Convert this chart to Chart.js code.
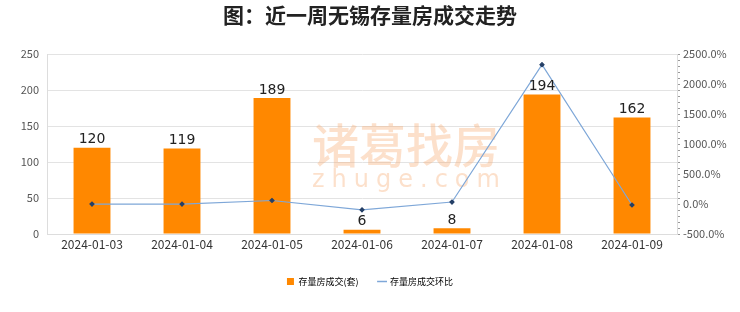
<!DOCTYPE html>
<html><head><meta charset="utf-8">
<script src="https://cdn.jsdelivr.net/npm/chart.js@4"></script>
<style>html,body{margin:0;padding:0;background:#fff}#wrap{width:740px;height:312px}</style>
</head><body><div id="wrap"><canvas id="c" width="740" height="312"></canvas></div>
<script>
const categories = ["2024-01-03","2024-01-04","2024-01-05","2024-01-06","2024-01-07","2024-01-08","2024-01-09"];
const volume = [120,119,189,6,8,194,162];
const changePct = [0,-0.8,58.8,-96.8,33.3,2325.0,-16.5];
const leftTicks = [0,50,100,150,200,250];
const rightTicks = [-500,0,500,1000,1500,2000,2500];
const titleText = "图：近一周无锡存量房成交走势";
const seriesNames = ["存量房成交(套)","存量房成交环比"];

const CJK = '"Noto Sans CJK SC","Noto Sans CJK JP",sans-serif';

const watermark = {
  id:'wm',
  beforeDatasetsDraw(chart){
    const ctx = chart.ctx; ctx.save();
    ctx.fillStyle = 'rgba(246,170,110,0.36)';
    ctx.font = '500 47px ' + CJK;
    ctx.textBaseline = 'middle'; ctx.textAlign = 'left';
    ctx.fillText('诸葛找房', 312, 145);
    ctx.font = '24px "DejaVu Sans",sans-serif';
    if ('letterSpacing' in ctx) ctx.letterSpacing = '7px';
    ctx.fillText('zhuge.com', 312, 181);
    ctx.restore();
  }
};
const dataLabels = {
  id:'dl',
  afterDatasetsDraw(chart){
    const ctx = chart.ctx; const meta = chart.getDatasetMeta(1);
    ctx.save(); ctx.font = '14px "DejaVu Sans",sans-serif'; ctx.fillStyle = '#222';
    ctx.textAlign = 'center'; ctx.textBaseline = 'bottom';
    meta.data.forEach((b,i)=>{ ctx.fillText(String(volume[i]), b.x, b.y - 1); });
    ctx.restore();
  }
};

new Chart(document.getElementById('c'), {
  data:{
    labels: categories,
    datasets:[
      {type:'line', label: seriesNames[1], data: changePct, yAxisID:'y1', borderColor:'#7ea7d8', borderWidth:1.2,
       pointStyle:'rectRot', pointRadius:2, pointBackgroundColor:'#243f66', pointBorderColor:'#243f66', tension:0, order:0},
      {type:'bar', label: seriesNames[0], data: volume, yAxisID:'y', backgroundColor:'#ff8800', barPercentage:0.41, categoryPercentage:1, order:1}
    ]
  },
  options:{
    responsive:false, animation:false, devicePixelRatio:1,
    layout:{padding:{top:0,bottom:16,left:0,right:0}},
    plugins:{
      title:{display:true, text:titleText, color:'#222', font:{family:CJK, size:21, weight:'bold'}, padding:{top:2,bottom:27}},
      legend:{position:'bottom', labels:{usePointStyle:true, font:{family:CJK,size:9}, color:'#333', boxWidth:7, boxHeight:7, padding:20,
        generateLabels(chart){
          return [
            {text:seriesNames[0], fillStyle:'#ff8800', strokeStyle:'#ff8800', pointStyle:'rect', lineWidth:0, datasetIndex:1},
            {text:seriesNames[1], fillStyle:'#243f66', strokeStyle:'#7ea7d8', pointStyle:'line', lineWidth:1.5, datasetIndex:0}
          ];
        }}},
      tooltip:{enabled:false}
    },
    scales:{
      x:{grid:{display:false, drawTicks:false}, border:{color:'#ddd'}, afterFit(s){ s.height = 23; },
         ticks:{color:'#333', font:{family:CJK,size:12}, padding:3}},
      y:{position:'left', min:0, max:250, afterBuildTicks(s){ s.ticks = leftTicks.map(v=>({value:v})); },
         afterFit(s){ s.width = 47; },
         grid:{color:'#e3e3e3', drawTicks:false}, border:{color:'#ddd'},
         ticks:{color:'#555', font:{family:CJK,size:11}, padding:8}},
      y1:{position:'right', min:-500, max:2500,
         afterBuildTicks(s){ const t=[]; for(let v=-500; v<=2500; v+=100) t.push({value:v}); s.ticks=t; },
         afterFit(s){ s.width = 63; },
         grid:{drawOnChartArea:false, drawTicks:true, tickLength:3, color:'#999'}, border:{color:'#ddd'},
         ticks:{autoSkip:false, color:'#555', font:{family:CJK,size:11}, padding:3,
           callback(v){ return rightTicks.includes(v) ? v.toFixed(1)+'%' : ''; }}}
    }
  },
  plugins:[watermark, dataLabels]
});
</script></body></html>
